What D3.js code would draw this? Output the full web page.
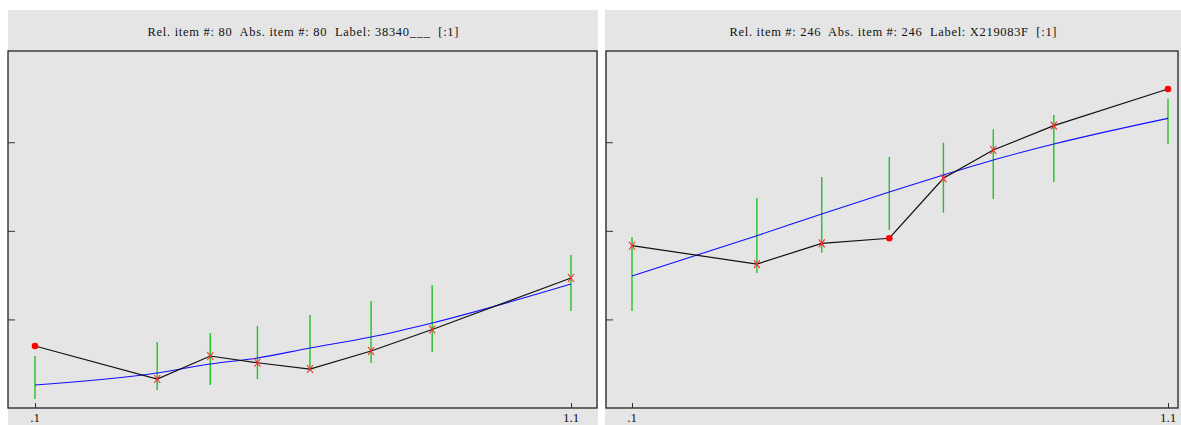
<!DOCTYPE html>
<html>
<head>
  <meta charset='utf-8'>
  <title>Item fits</title>
  <style>
    body { margin: 0; background: #fff; }
  </style>
</head>
<body>
<div id="chart"></div>
<script src="https://cdnjs.cloudflare.com/ajax/libs/d3/7.8.5/d3.min.js"></script>
<script>

// values
var titles = [
  'Rel. item #: 80  Abs. item #: 80  Label: 38340___  [:1]',
  'Rel. item #: 246  Abs. item #: 246  Label: X219083F  [:1]'
];
var xTickValues = [0.1, 1.1];
var xTickLabels = ['.1', '1.1'];
var yTickValues = [1, 2, 3];

var leftX    = [0.1, 0.328, 0.427, 0.515, 0.613, 0.727, 0.841, 1.1];
var leftObs  = [0.70, 0.327, 0.587, 0.511, 0.44, 0.643, 0.886, 1.467];
var leftLow  = [0.102, 0.203, 0.26, 0.327, 0.418, 0.508, 0.632, 1.095];
var leftHigh = [0.587, 0.745, 0.847, 0.926, 1.05, 1.208, 1.388, 1.727];
var leftFit  = [0.26, 0.395, 0.497, 0.564, 0.677, 0.801, 0.96, 1.40];
var leftMark = ['dot', 'x', 'x', 'x', 'x', 'x', 'x', 'x'];

var rightX    = [0.1, 0.333, 0.454, 0.58, 0.681, 0.774, 0.887, 1.1];
var rightObs  = [1.832, 1.625, 1.859, 1.916, 2.593, 2.912, 3.187, 3.601];
var rightLow  = [1.095, 1.524, 1.753, 2.009, 2.205, 2.359, 2.551, 2.980];
var rightHigh = [1.930, 2.370, 2.608, 2.833, 2.995, 3.146, 3.307, 3.491];
var rightFit  = [1.490, 1.945, 2.190, 2.438, 2.630, 2.799, 2.980, 3.270];
var rightMark = ['x', 'x', 'x', 'dot', 'x', 'x', 'x', 'dot'];

var width = 1181, height = 425;
var serif = "'Liberation Serif', 'Times New Roman', 'DejaVu Serif', serif";

var svg = d3.select('#chart').append('svg')
  .attr('width', width)
  .attr('height', height);

var panels = [
  { title: titles[0], titleW: 311, x: leftX, obs: leftObs, low: leftLow, high: leftHigh, fit: leftFit, mark: leftMark,
    bg: [8, 598], box: [8, 597], plot: [35, 571] },
  { title: titles[1], titleW: 327, x: rightX, obs: rightObs, low: rightLow, high: rightHigh, fit: rightFit, mark: rightMark,
    bg: [605, 1181], box: [606, 1178], plot: [632, 1168] }
];

var boxTop = 51, boxBottom = 408;

panels.forEach(function(p) {
  var g = svg.append('g');

  g.append('rect')
    .attr('x', p.bg[0]).attr('y', 10)
    .attr('width', p.bg[1] - p.bg[0]).attr('height', height - 10)
    .attr('fill', '#e5e5e5');

  g.append('text')
    .attr('x', (p.bg[0] + p.bg[1]) / 2)
    .attr('y', 36)
    .attr('text-anchor', 'middle')
    .attr('font-family', serif)
    .attr('font-size', '12.5px')
    .attr('fill', '#111')
    .attr('textLength', p.titleW)
    .attr('lengthAdjust', 'spacing')
    .style('white-space', 'pre')
    .text(p.title);

  var x = d3.scaleLinear().domain([0.1, 1.1]).range(p.plot);
  var y = d3.scaleLinear().domain([0, 4.03]).range([boxBottom, boxTop]);

  // inward ticks on left and bottom
  var yAxis = d3.axisRight(y).tickValues(yTickValues).tickSize(7).tickFormat('');
  g.append('g').attr('transform', 'translate(' + p.box[0] + ',0)').call(yAxis)
    .call(function(a) { a.select('.domain').remove(); a.selectAll('line').attr('stroke', '#333'); });

  var xAxis = d3.axisTop(x).tickValues(xTickValues).tickSize(5).tickFormat('');
  g.append('g').attr('transform', 'translate(0,' + boxBottom + ')').call(xAxis)
    .call(function(a) { a.select('.domain').remove(); a.selectAll('line').attr('stroke', '#333'); });

  g.selectAll('.xlab')
    .data(xTickValues)
    .enter().append('text')
      .attr('x', function(d) { return x(d); })
      .attr('y', 422)
      .attr('text-anchor', 'middle')
      .attr('font-family', serif)
      .attr('font-size', '13px')
      .attr('fill', '#111')
      .text(function(d, i) { return xTickLabels[i]; });

  g.append('rect')
    .attr('x', p.box[0]).attr('y', boxTop)
    .attr('width', p.box[1] - p.box[0]).attr('height', boxBottom - boxTop)
    .attr('fill', 'none')
    .attr('stroke', '#222')
    .attr('stroke-width', 1.3);

  var idx = d3.range(p.x.length);

  // error bars
  g.selectAll('.bar')
    .data(idx)
    .enter().append('line')
      .attr('x1', function(i) { return x(p.x[i]); })
      .attr('x2', function(i) { return x(p.x[i]); })
      .attr('y1', function(i) { return y(p.low[i]); })
      .attr('y2', function(i) { return y(p.high[i]); })
      .attr('stroke', '#22c322')
      .attr('stroke-width', 1.4);

  // fitted curve
  var fitLine = d3.line()
    .x(function(i) { return x(p.x[i]); })
    .y(function(i) { return y(p.fit[i]); })
    .curve(d3.curveMonotoneX);
  g.append('path')
    .attr('d', fitLine(idx))
    .attr('fill', 'none')
    .attr('stroke', '#1010ff')
    .attr('stroke-width', 1.1);

  // observed
  var obsLine = d3.line()
    .x(function(i) { return x(p.x[i]); })
    .y(function(i) { return y(p.obs[i]); });
  g.append('path')
    .attr('d', obsLine(idx))
    .attr('fill', 'none')
    .attr('stroke', '#111')
    .attr('stroke-width', 1.2);

  g.selectAll('.dot')
    .data(idx.filter(function(i) { return p.mark[i] === 'dot'; }))
    .enter().append('circle')
      .attr('cx', function(i) { return x(p.x[i]); })
      .attr('cy', function(i) { return y(p.obs[i]); })
      .attr('r', 3.3)
      .attr('fill', '#ff0000');

  g.selectAll('.cross')
    .data(idx.filter(function(i) { return p.mark[i] === 'x'; }))
    .enter().append('path')
      .attr('d', function(i) {
        var cx = x(p.x[i]), cy = y(p.obs[i]);
        return 'M' + (cx - 3) + ',' + (cy - 4) + 'L' + (cx + 3) + ',' + (cy + 4) +
               'M' + (cx + 3) + ',' + (cy - 4) + 'L' + (cx - 3) + ',' + (cy + 4);
      })
      .attr('fill', 'none')
      .attr('stroke', '#ff2a2a')
      .attr('stroke-width', 1.1);
});

</script>
</body>
</html>
